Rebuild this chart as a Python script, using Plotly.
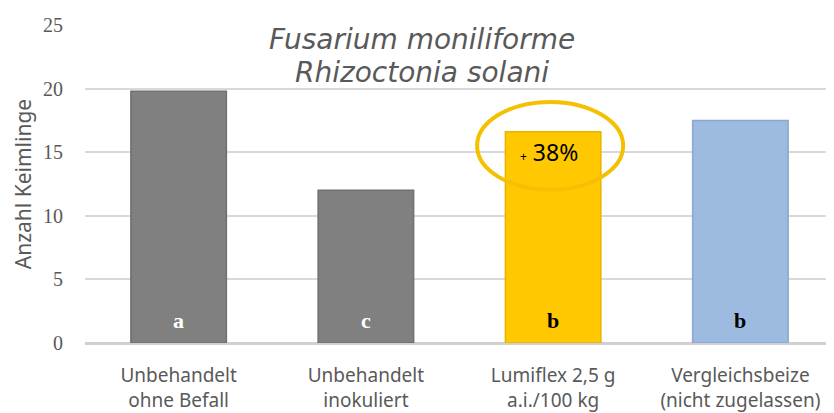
import plotly.graph_objects as go

categories = ["Unbehandelt<br>ohne Befall", "Unbehandelt<br>inokuliert",
              "Lumiflex 2,5 g<br>a.i./100 kg", "Vergleichsbeize<br>(nicht zugelassen)"]
values = [19.8, 12.0, 16.6, 17.5]
letters = ["a", "c", "b", "b"]
letter_colors = ["white", "white", "black", "black"]
bar_colors = ["#808080", "#808080", "#FFC800", "#9DBBE0"]
line_colors = ["#707070", "#707070", "#E8B400", "#89a7cf"]
y_ticks = [0, 5, 10, 15, 20, 25]
title_lines = ["Fusarium moniliforme", "Rhizoctonia solani"]
highlight_text = "<span style='font-size:12px'>+</span> 38%"

x_idx = list(range(len(categories)))

fig = go.Figure()
fig.add_trace(go.Bar(
    x=x_idx, y=values, width=0.51,
    marker=dict(color=bar_colors, line=dict(color=line_colors, width=1.5)),
    hoverinfo="skip",
))

for i, (l, c) in enumerate(zip(letters, letter_colors)):
    fig.add_annotation(x=i, y=0, yshift=23, text=f"<b>{l}</b>", showarrow=False,
                       font=dict(family="Liberation Serif", size=22, color=c))

fig.add_annotation(x=2, y=15.0, xshift=-4, text=highlight_text, showarrow=False,
                   font=dict(family="Noto Sans", size=23, color="black"))

fig.add_shape(type="circle", xref="x", yref="y",
              x0=1.594, x1=2.374, y0=12.05, y1=18.95,
              line=dict(color="#F5C000", width=4))

for k, t in enumerate(title_lines):
    fig.add_annotation(xref="paper", yref="paper", x=(422 - 85) / 749, y=1.0,
                       yshift=-(14 + 33 * k), yanchor="middle",
                       text=f"<i>{t}</i>", showarrow=False,
                       font=dict(family="DejaVu Sans", size=28, color="#595959"))

fig.update_layout(
    width=826, height=405,
    margin=dict(l=77, r=0, t=17, b=70),
    plot_bgcolor="white", paper_bgcolor="white",
    showlegend=False,
    xaxis=dict(tickmode="array", tickvals=x_idx, ticktext=categories,
               range=[-0.5, 3.5], showgrid=False, zeroline=False, automargin=False,
               tickfont=dict(family="Noto Sans", size=19, color="#595959"),
               ticks="", showline=False, ticklabelstandoff=19),
    yaxis=dict(range=[0, 25], tickvals=y_ticks, showgrid=True, gridcolor="#d9d9d9",
               gridwidth=1.5, zeroline=True, zerolinecolor="#d0d0d0", zerolinewidth=2.5,
               automargin=False,
               tickfont=dict(family="Liberation Serif", size=20, color="#595959"),
               ticks="outside", ticklen=17, tickcolor="white",
               title=dict(text="Anzahl Keimlinge", standoff=5,
                          font=dict(family="Noto Sans", size=21, color="#595959"))),
)

fig.write_html("out.html")
